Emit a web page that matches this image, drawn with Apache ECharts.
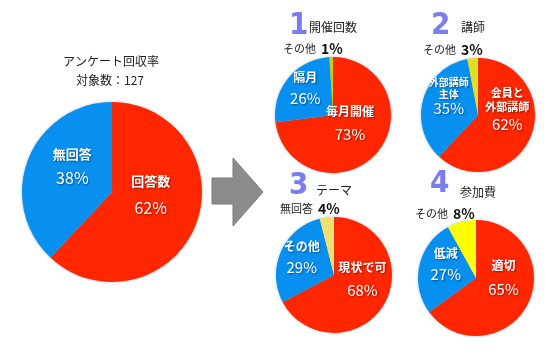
<!DOCTYPE html>
<html><head><meta charset="utf-8">
<script src="https://cdn.jsdelivr.net/npm/echarts@6/dist/echarts.min.js"></script>
<style>html,body{margin:0;padding:0;background:#fff}#c{width:550px;height:353px}</style>
</head><body><div id="c"></div>
<script>
// ---- data ----
const mainTitle = 'アンケート回収率';
const mainSub = '対象数：127';
const mainNames = ['回答数', '無回答'];
const mainValues = [62, 38];

const q1Title = '開催回数';
const q1Names = ['毎月開催', '隔月', 'その他'];
const q1Values = [73, 26, 1];

const q2Title = '講師';
const q2Names = ['会員と\n外部講師', '外部講師\n主体', 'その他'];
const q2Values = [62, 35, 3];

const q3Title = 'テーマ';
const q3Names = ['現状で可', 'その他', '無回答'];
const q3Values = [68, 29, 4];

const q4Title = '参加費';
const q4Names = ['適切', '低減', 'その他'];
const q4Values = [65, 27, 8];

const qNumbers = ['1', '2', '3', '4'];

// ---- styling ----
const RED = '#ff2600', BLUE = '#0890f0';
const FONT = '"Noto Sans CJK JP", "Noto Sans", sans-serif';
const shadowText = {textShadowColor: 'rgba(0,0,0,0.45)', textShadowBlur: 2, textShadowOffsetX: 1, textShadowOffsetY: 1};

function insideLabel(nameSize, pctSize, nameLH, pctLH, pad) {
  return {
    show: true, position: 'inside', padding: pad,
    formatter: p => '{n|' + p.name.split('\n').join('}\n{n|') + '}\n{p|' + p.value + '%}',
    rich: {
      n: Object.assign({fontFamily: FONT, fontWeight: 'bold', fontSize: nameSize, color: '#fff', lineHeight: nameLH, align: 'center'}, shadowText),
      p: Object.assign({fontFamily: FONT, fontWeight: 'normal', fontSize: pctSize, color: '#fff', lineHeight: pctLH, align: 'center'}, shadowText)
    }
  };
}

function pie(center, radius, names, values, colors, labels) {
  return {
    type: 'pie', center: center, radius: radius, startAngle: 90, clockwise: true,
    silent: true, animation: false,
    labelLine: {show: false},
    itemStyle: {borderWidth: 0, shadowBlur: 3, shadowColor: 'rgba(60,120,140,0.45)'},
    data: names.map((n, i) => ({
      name: n, value: values[i],
      itemStyle: {color: colors[i]},
      label: labels[i] || {show: false}
    }))
  };
}

const numStyle = {fontFamily: '"Liberation Sans Narrow", "DejaVu Sans Condensed", sans-serif', fontWeight: 'bold', fontSize: 31, color: '#7a7cf2'};
const headStyle = {fontFamily: FONT, fontSize: 12, color: '#222', fontWeight: 'normal'};
function smallLabel(names, values, idx, left, top) {
  return {
    text: '{n|' + names[idx] + '} {p|' + values[idx] + '%}',
    left: left, top: top, padding: 0,
    textStyle: {fontWeight: 'normal', rich: {
      n: {fontFamily: FONT, fontSize: 11, fontWeight: 'normal', color: '#222'},
      p: {fontFamily: FONT, fontSize: 14, fontWeight: 'bold', color: '#111'}
    }}
  };
}

const option = {
  backgroundColor: '#fff',
  animation: false,
  title: [
    {text: mainTitle, left: 63, top: 55, padding: 0, textStyle: {fontFamily: FONT, fontSize: 12, color: '#222', fontWeight: 'normal'}},
    {text: mainSub, left: 76, top: 74, padding: 0, textStyle: {fontFamily: FONT, fontSize: 12, color: '#222', fontWeight: 'normal'}},
    {text: qNumbers[0], left: 289, top: 10, padding: 0, textStyle: numStyle},
    {text: q1Title, left: 309, top: 21, padding: 0, textStyle: headStyle},
    {text: qNumbers[1], left: 431, top: 10, padding: 0, textStyle: numStyle},
    {text: q2Title, left: 461, top: 21, padding: 0, textStyle: headStyle},
    {text: qNumbers[2], left: 289, top: 170, padding: 0, textStyle: numStyle},
    {text: q3Title, left: 316, top: 184, padding: 0, textStyle: headStyle},
    {text: qNumbers[3], left: 430, top: 168, padding: 0, textStyle: numStyle},
    {text: q4Title, left: 460, top: 186, padding: 0, textStyle: headStyle},
    smallLabel(q1Names, q1Values, 2, 283, 40),
    smallLabel(q2Names, q2Values, 2, 423, 41),
    smallLabel(q3Names, q3Values, 2, 280, 200),
    smallLabel(q4Names, q4Values, 2, 415, 205)
  ],
  graphic: [{
    type: 'polygon', silent: true,
    shape: {points: [[212,178],[233,178],[233,158],[263,192],[233,226],[233,204],[212,204]]},
    style: {fill: '#8c8c8c', stroke: '#7a7a7a', lineWidth: 1}
  }],
  series: [
    pie([112, 192], 90, mainNames, mainValues, [RED, BLUE], [
      insideLabel(13, 16, 26, 28, [0, 12, 30, 0]),
      insideLabel(13, 16, 24, 24, [0, 0, 16, 10])
    ]),
    pie([333, 115], 58, q1Names, q1Values, [RED, BLUE, '#c8c810'], [
      insideLabel(12, 15, 22, 24, [0, 14, 26, 0]),
      insideLabel(12, 15, 20, 22, [0, 6, 12, 0])
    ]),
    pie([478, 115], 57, q2Names, q2Values, [RED, BLUE, '#e0e020'], [
      insideLabel(11, 15, 14, 22, [0, 0, 32, 0]),
      insideLabel(10, 15, 12, 16, [0, 0, 20, 2])
    ]),
    pie([334, 275], 58, q3Names, q3Values, [RED, BLUE, '#f0e070'], [
      insideLabel(12, 15, 22, 24, [0, 0, 24, 2]),
      insideLabel(12, 15, 20, 22, [0, 6, 10, 0])
    ]),
    pie([476, 278], 58, q4Names, q4Values, [RED, BLUE, '#ffff00'], [
      insideLabel(12, 15, 24, 24, [0, 2, 30, 0]),
      insideLabel(12, 15, 20, 22, [0, 0, 14, 2])
    ])
  ]
};
echarts.init(document.getElementById('c'), null, {renderer: 'canvas'}).setOption(option);
</script></body></html>
